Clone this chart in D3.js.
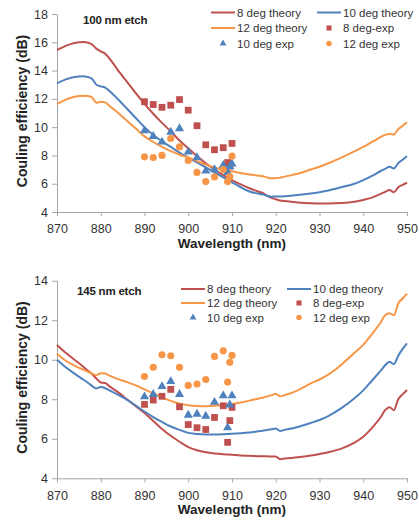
<!DOCTYPE html>
<html>
<head>
<meta charset="utf-8">
<script src="https://cdn.jsdelivr.net/npm/d3@7"></script>
<style>
  html, body { margin: 0; padding: 0; background: #fff; }
  svg { display: block; font-family: "Liberation Sans", Arial, sans-serif; }
</style>
</head>
<body>
<svg id="chart" width="419" height="520"></svg>
<script>
// ---------- DATA ----------
const theoryWl = [870,872,874,876,877,878,879,880,881,882,884,886,888,890,892,894,896,898,900,902,904,906,908,910,912,914,916,917,918,919,920,921,922,925,928,930,932,935,938,940,942,944,945,946,947,948,949,950];

// 100 nm etch
const top8Theory  = [15.45,15.75,15.95,16.02,15.98,15.85,15.55,15.35,15.2,14.85,14.0,13.2,12.4,11.65,10.95,10.3,9.7,9.05,8.5,7.95,7.45,7.0,6.6,6.25,5.95,5.68,5.45,5.35,5.15,5.0,4.9,4.82,4.77,4.68,4.62,4.6,4.6,4.63,4.72,4.85,5.02,5.28,5.42,5.55,5.4,5.75,5.92,6.07];
const top10Theory = [13.1,13.38,13.55,13.6,13.55,13.42,13.0,12.88,12.8,12.55,11.95,11.3,10.65,10.0,9.45,9.0,8.6,8.2,7.85,7.5,7.15,6.8,6.45,6.1,5.75,5.45,5.3,5.25,5.15,5.08,5.1,5.1,5.12,5.2,5.3,5.4,5.52,5.75,6.0,6.25,6.55,6.9,7.05,7.2,7.08,7.45,7.7,7.95];
const top12Theory = [11.62,11.95,12.15,12.22,12.2,12.1,11.72,11.8,11.75,11.5,11.0,10.45,9.9,9.35,8.95,8.6,8.3,8.05,7.85,7.6,7.35,7.15,7.0,6.88,6.75,6.65,6.57,6.53,6.45,6.38,6.4,6.43,6.5,6.7,7.0,7.2,7.45,7.85,8.3,8.6,8.95,9.3,9.45,9.52,9.48,9.85,10.1,10.35];

// 145 nm etch
const bot8Theory  = [10.75,10.35,10.0,9.65,9.45,9.28,9.05,8.85,8.82,8.65,8.35,8.0,7.65,7.3,6.9,6.5,6.15,5.85,5.58,5.42,5.32,5.26,5.22,5.19,5.16,5.14,5.12,5.12,5.11,5.1,5.1,4.97,5.0,5.06,5.15,5.23,5.32,5.5,5.8,6.1,6.55,7.1,7.45,7.6,7.45,8.0,8.25,8.47];
const bot10Theory = [10.0,9.62,9.3,9.0,8.85,8.68,8.55,8.62,8.56,8.45,8.22,7.97,7.68,7.38,7.1,6.85,6.62,6.45,6.3,6.24,6.22,6.22,6.23,6.25,6.28,6.32,6.38,6.41,6.45,6.48,6.52,6.4,6.45,6.6,6.8,6.95,7.15,7.55,8.05,8.45,8.95,9.45,9.72,9.9,9.78,10.2,10.55,10.83];
const bot12Theory = [10.3,9.95,9.7,9.5,9.4,9.3,9.22,9.32,9.3,9.2,9.02,8.87,8.7,8.5,8.3,8.1,7.92,7.78,7.7,7.66,7.65,7.67,7.71,7.76,7.84,7.93,8.03,8.08,8.14,8.2,8.28,8.15,8.2,8.45,8.8,9.0,9.25,9.75,10.35,10.75,11.3,11.9,12.25,12.35,12.25,12.85,13.1,13.35];

const expWl = [890,892,894,896,898,900,902,904,906,908,909,909.5,910];
const top8Exp  = [11.8,11.6,11.4,11.55,11.95,11.2,10.1,8.75,8.4,8.55,7.5,7.25,8.85];
const top10Exp = [9.75,9.35,8.95,9.65,9.9,8.25,7.85,6.9,7.0,7.3,6.8,7.2,7.4];
const top12Exp = [7.9,7.85,8.0,9.2,8.6,7.65,6.8,6.15,6.48,7.0,6.15,6.5,7.95];
const bot8Exp  = [7.74,7.96,8.15,8.5,7.62,6.72,6.56,6.47,7.08,7.67,5.82,6.92,7.59];
const bot10Exp = [8.13,8.25,8.65,8.9,8.25,7.2,7.25,7.15,7.85,8.18,6.56,7.72,8.18];
const bot12Exp = [9.15,9.62,10.25,10.2,9.62,8.7,8.77,9.0,10.17,10.45,8.87,9.87,10.22];

const xTicks = [870,880,890,900,910,920,930,940,950];
const topYTicks = [4,6,8,10,12,14,16,18];
const botYTicks = [4,6,8,10,12,14];
const seriesNames = ["8 deg theory","10 deg theory","12 deg theory","8 deg-exp","10 deg exp","12 deg exp"];
const panelTitles = ["100 nm etch","145 nm etch"];
const xTitle = "Wavelength (nm)";
const yTitle = "Couling efficiency (dB)";

// ---------- STYLE ----------
const C_RED = "#C0504D", C_BLUE = "#4F81BD", C_ORANGE = "#F79646";
const AXIS_C = "#A6A6A6", TEXT_C = "#333333";

const svg = d3.select("#chart");

function panel(opt) {
  const g = svg.append("g");
  const x = d3.scaleLinear().domain([870, 950]).range([57, 407]);
  const y = d3.scaleLinear().domain(opt.yDomain).range(opt.yRange);

  // axes
  const xAxis = d3.axisBottom(x).tickValues(xTicks).tickSize(4).tickSizeOuter(0).tickFormat(d3.format("d"));
  const yAxis = d3.axisLeft(y).tickValues(opt.yTicks).tickSize(5).tickSizeOuter(0).tickFormat(d3.format("d"));
  const gx = g.append("g").attr("transform", `translate(0,${opt.yRange[0]})`).call(xAxis);
  const gy = g.append("g").attr("transform", `translate(57,0)`).call(yAxis);
  [gx, gy].forEach(a => {
    a.selectAll("path,line").attr("stroke", AXIS_C).attr("stroke-width", 1);
    a.selectAll("text").attr("fill", TEXT_C).style("font-size", "12.5px");
  });
  gx.selectAll("text").attr("dy", "1.15em");
  gy.selectAll("text").attr("x", -9);

  // titles
  g.append("text").attr("x", 232).attr("y", opt.yRange[0] + 36)
    .attr("text-anchor", "middle").attr("font-weight", "bold").attr("font-size", "13.5px")
    .attr("fill", "#222").text(xTitle);
  const yc = (opt.yRange[0] + opt.yRange[1]) / 2 - 2;
  g.append("text").attr("transform", `translate(27,${yc}) rotate(-90)`)
    .attr("text-anchor", "middle").attr("font-weight", "bold").attr("font-size", "14px")
    .attr("fill", "#222").text(yTitle);
  g.append("text").attr("x", opt.titleX).attr("y", opt.titleY)
    .attr("font-weight", "bold").attr("font-size", "11.5px").attr("fill", "#222")
    .attr("letter-spacing", "-0.2px").text(opt.title);

  // theory lines
  const line = d3.line().x((d, i) => x(theoryWl[i])).y(d => y(d)).curve(d3.curveMonotoneX);
  const lines = [[opt.t8, C_RED], [opt.t10, C_BLUE], [opt.t12, C_ORANGE]];
  lines.forEach(([arr, c]) => {
    g.append("path").datum(arr).attr("d", line).attr("fill", "none")
      .attr("stroke", c).attr("stroke-width", 2).attr("stroke-linejoin", "round");
  });

  // experimental markers
  const exps = [[opt.e8, d3.symbolSquare, 46, C_RED], [opt.e10, d3.symbolTriangle, 36, C_BLUE], [opt.e12, d3.symbolCircle, 40, C_ORANGE]];
  exps.forEach(([arr, sym, size, c]) => {
    g.append("g").selectAll("path").data(arr).join("path")
      .attr("d", d3.symbol().type(sym).size(size))
      .attr("transform", (d, i) => `translate(${x(expWl[i])},${y(d)})`)
      .attr("fill", c);
  });

  // legend
  const L = opt.legend;
  const rows = L.rows;
  const items = [
    {name: seriesNames[0], type: "line", c: C_RED, col: 0, row: 0},
    {name: seriesNames[1], type: "line", c: C_BLUE, col: 1, row: 0},
    {name: seriesNames[2], type: "line", c: C_ORANGE, col: 0, row: 1},
    {name: seriesNames[3], type: d3.symbolSquare, size: 26, c: C_RED, col: 1, row: 1},
    {name: seriesNames[4], type: d3.symbolTriangle, size: 20, c: C_BLUE, col: 0, row: 2},
    {name: seriesNames[5], type: d3.symbolCircle, size: 24, c: C_ORANGE, col: 1, row: 2}
  ];
  const lg = g.append("g");
  items.forEach(it => {
    const x0 = L.cols[it.col], yy = rows[it.row];
    if (it.type === "line") {
      lg.append("line").attr("x1", x0).attr("x2", x0 + 24).attr("y1", yy).attr("y2", yy)
        .attr("stroke", it.c).attr("stroke-width", 2);
    } else {
      lg.append("path").attr("d", d3.symbol().type(it.type).size(it.size))
        .attr("transform", `translate(${x0 + 12},${yy})`).attr("fill", it.c);
    }
    lg.append("text").attr("x", x0 + 26).attr("y", yy).attr("dy", "0.36em")
      .attr("font-size", "11.5px").attr("fill", TEXT_C).text(it.name);
  });
}

panel({
  yDomain: [4, 18], yRange: [212, 14], yTicks: topYTicks,
  title: panelTitles[0], titleX: 83, titleY: 24,
  t8: top8Theory, t10: top10Theory, t12: top12Theory,
  e8: top8Exp, e10: top10Exp, e12: top12Exp,
  legend: {cols: [211, 317], rows: [12.5, 28, 43.5]}
});

panel({
  yDomain: [4, 14], yRange: [478.3, 280.7], yTicks: botYTicks,
  title: panelTitles[1], titleX: 77, titleY: 295,
  t8: bot8Theory, t10: bot10Theory, t12: bot12Theory,
  e8: bot8Exp, e10: bot10Exp, e12: bot12Exp,
  legend: {cols: [181, 287], rows: [289, 303, 317.5]}
});
</script>
</body>
</html>
